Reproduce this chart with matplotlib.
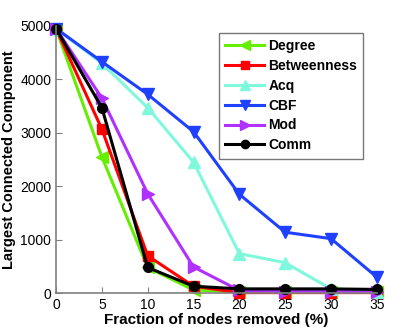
import matplotlib
matplotlib.use("Agg")
import matplotlib.pyplot as plt

x = [0, 5, 10, 15, 20, 25, 30, 35]
degree = [4950, 2550, 480, 60, 20, 20, 20, 20]
betweenness = [4950, 3070, 700, 130, 10, 10, 10, 10]
acq = [4950, 4300, 3470, 2450, 740, 570, 80, 30]
cbf = [4950, 4330, 3720, 3020, 1850, 1140, 1020, 300]
mod = [4950, 3650, 1860, 490, 50, 30, 30, 20]
comm = [4950, 3470, 480, 130, 80, 80, 80, 70]

series = [
    ("Degree", degree, "#66ee00", "<"),
    ("Betweenness", betweenness, "#ff0000", "s"),
    ("Acq", acq, "#80f8dc", "^"),
    ("CBF", cbf, "#2040ff", "v"),
    ("Mod", mod, "#b030ff", ">"),
    ("Comm", comm, "#000000", "o"),
]

plt.rcParams['font.family'] = ['Liberation Sans', 'DejaVu Sans']
fig = plt.figure(figsize=(4.15, 3.32), dpi=100)
ax = fig.add_axes([0.135, 0.117, 0.773, 0.805])
for name, vals, col, mk in series:
    ms = 7 if mk in ("s", "o") else 8
    ax.plot(x, vals, color=col, marker=mk, lw=2.2, ms=ms, label=name, clip_on=False)

ax.set_xlim(0, 35)
ax.set_ylim(0, 5000)
ax.set_xticks(x)
ax.set_yticks([0, 1000, 2000, 3000, 4000, 5000])
for s in ["top", "right"]:
    ax.spines[s].set_visible(False)
for s in ["left", "bottom"]:
    ax.spines[s].set_color("#808080")
    ax.spines[s].set_linewidth(1.2)
ax.tick_params(direction="in", colors="#808080", labelcolor="black", labelsize=10, length=4)
ax.set_xlabel("Fraction of nodes removed (%)", fontsize=11, fontweight="bold", labelpad=1)
ax.set_ylabel("Largest Connected Component", fontsize=10.5, fontweight="bold", labelpad=3)
leg = ax.legend(loc="upper right", bbox_to_anchor=(0.98, 1.0),
                prop={"weight": "bold", "size": 10}, frameon=True, fancybox=False,
                handlelength=2.8, borderpad=0.45, labelspacing=0.42, handletextpad=0.3,
                markerscale=0.85)
leg.get_frame().set_edgecolor("#555555")
leg.get_frame().set_linewidth(1.0)
fig.savefig("out.png", dpi=100)
